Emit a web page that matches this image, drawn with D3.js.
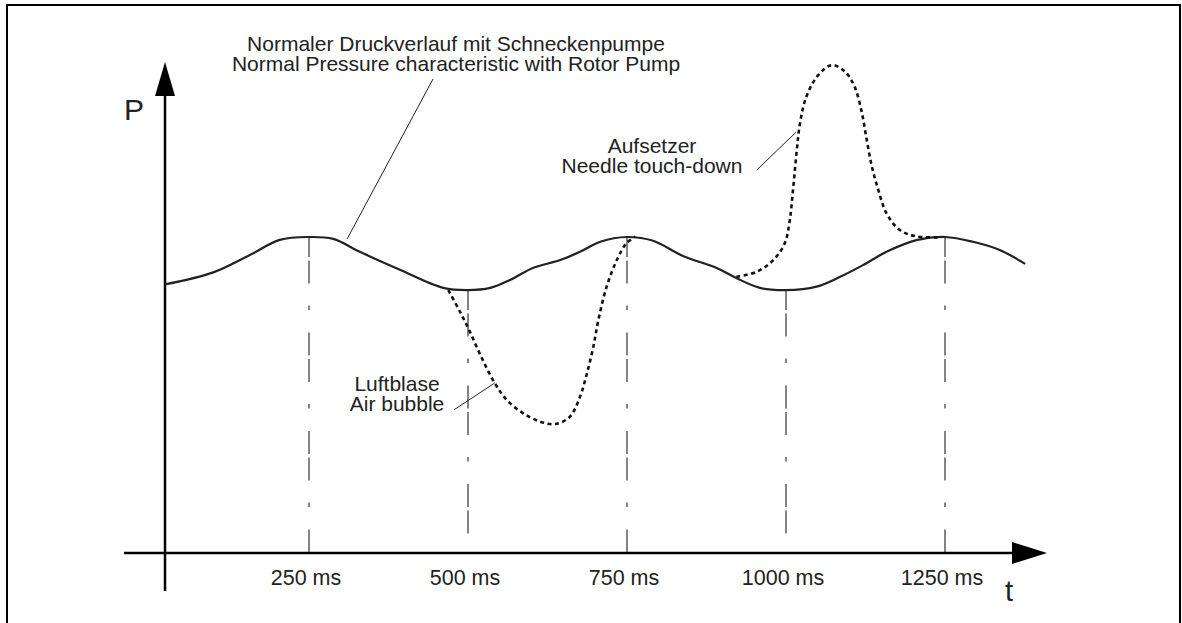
<!DOCTYPE html>
<html>
<head>
<meta charset="utf-8">
<script src="https://cdn.jsdelivr.net/npm/d3@7"></script>
<style>
  body { margin: 0; background: #fff; }
  svg { display: block; }
  text { font-family: "Liberation Sans", Arial, Helvetica, sans-serif; fill: #222; }
</style>
</head>
<body>
<svg id="chart"></svg>
<script>
// time in ms, pressure in % of the normal peak
const normalT = [23.6, 99.5, 157, 204, 250, 288, 330, 393, 461, 500, 535, 566, 602, 645, 676, 708, 750, 791, 838, 891, 922, 959, 1000, 1048, 1085, 1121, 1158, 1205, 1250, 1294, 1336, 1376];
const normalP = [85.0, 88.8, 94.3, 99.1, 100, 99.4, 95.3, 89.6, 83.9, 83.2, 83.9, 86.4, 90.2, 92.7, 95.3, 98.5, 100, 98.8, 94.0, 90.2, 87.0, 83.9, 83.2, 84.3, 87.4, 91.1, 95.3, 99.0, 100, 98.5, 95.9, 91.5];

const bubbleT = [469, 487, 503, 521, 542, 561, 587, 613, 637, 660, 676, 687, 697, 705, 718, 734, 749, 763];
const bubbleP = [83.2, 76.5, 70.0, 62.0, 53.8, 48.4, 44.2, 41.6, 40.8, 43.1, 49.4, 56.8, 65.2, 73.7, 84.3, 92.7, 98.0, 100.1];

const needleT = [922, 954, 980, 998, 1006, 1011, 1017, 1022, 1032, 1051, 1072, 1093, 1108, 1119, 1127, 1135, 1145, 1158, 1179, 1205, 1242];
const needleP = [87.4, 89.0, 92.7, 98.0, 105.4, 114.9, 127.5, 136.0, 144.4, 151.3, 154.4, 152.3, 147.5, 139.6, 130.7, 122.3, 115.0, 107.5, 102.2, 100.2, 99.9];

const tickT = [250, 500, 750, 1000, 1250];
const tickP = [100, 83.2, 100, 83.2, 100];
const tickLabels = ["250 ms", "500 ms", "750 ms", "1000 ms", "1250 ms"];

const axisT = 23.6;

const width = 1182, height = 623;

const svg = d3.select("#chart")
    .attr("width", width)
    .attr("height", height);

svg.append("rect")
    .attr("x", 7).attr("y", 5)
    .attr("width", 1173).attr("height", 640)
    .attr("fill", "#fff")
    .attr("stroke", "#000")
    .attr("stroke-width", 2);

const x = d3.scaleLinear().domain([0, 1250]).range([150, 945]);
const y = d3.scaleLinear().domain([0, 100]).range([553, 237]);

const line = d3.line()
    .x(d => x(d[0]))
    .y(d => y(d[1]))
    .curve(d3.curveCatmullRom.alpha(0.5));

const zip = (a, b) => a.map((v, i) => [v, b[i]]);

// dash-dot marker lines
svg.append("g")
    .selectAll("line")
    .data(zip(tickT, tickP))
    .join("line")
    .attr("x1", d => x(d[0])).attr("x2", d => x(d[0]))
    .attr("y1", d => y(d[1])).attr("y2", y(0))
    .attr("stroke", "#333")
    .attr("stroke-width", 1.2)
    .attr("stroke-dasharray", "23,3.5,23,22,4.5,22.5")
    .attr("stroke-dashoffset", 3);

// axes
const x0 = x(axisT);
svg.append("line")
    .attr("x1", 124).attr("x2", 1015)
    .attr("y1", y(0)).attr("y2", y(0))
    .attr("stroke", "#000").attr("stroke-width", 2.5);
svg.append("line")
    .attr("x1", x0).attr("x2", x0)
    .attr("y1", 92).attr("y2", 591)
    .attr("stroke", "#000").attr("stroke-width", 2.5);
svg.append("path")
    .attr("d", `M${x0},62 L${x0 - 10},96 L${x0 + 10},96 Z`)
    .attr("fill", "#000");
svg.append("path")
    .attr("d", `M1047,${y(0)} L1012,${y(0) - 11} L1012,${y(0) + 11} Z`)
    .attr("fill", "#000");

svg.append("text")
    .attr("x", 124).attr("y", 120)
    .attr("font-size", 30)
    .text("P");
svg.append("text")
    .attr("x", 1005).attr("y", 601)
    .attr("font-size", 29)
    .text("t");

svg.append("g")
    .selectAll("text")
    .data(tickT)
    .join("text")
    .attr("x", d => x(d) - 3)
    .attr("y", 585)
    .attr("font-size", 21.5)
    .attr("text-anchor", "middle")
    .text((d, i) => tickLabels[i]);

// curves
svg.append("path")
    .datum(zip(normalT, normalP))
    .attr("d", line)
    .attr("fill", "none")
    .attr("stroke", "#222")
    .attr("stroke-width", 2.2);

[zip(bubbleT, bubbleP), zip(needleT, needleP)].forEach(pts => {
    svg.append("path")
        .datum(pts)
        .attr("d", line)
        .attr("fill", "none")
        .attr("stroke", "#111")
        .attr("stroke-width", 2.6)
        .attr("stroke-dasharray", "4,3.5");
});

// annotations
const notes = [
    { lines: ["Normaler Druckverlauf mit Schneckenpumpe", "Normal Pressure characteristic with Rotor Pump"], tx: 456, ty: 51, from: [310, 99.4], to: [445, 150] },
    { lines: ["Luftblase", "Air bubble"], tx: 397, ty: 391, from: [478, 45.3], to: [542, 53.8] },
    { lines: ["Aufsetzer", "Needle touch-down"], tx: 652, ty: 153, from: [954, 121.2], to: [1016, 133.2] }
];

notes.forEach(n => {
    const t = svg.append("text")
        .attr("text-anchor", "middle")
        .attr("font-size", 21);
    n.lines.forEach((s, i) => {
        t.append("tspan")
            .attr("x", n.tx)
            .attr("y", n.ty + i * 20)
            .text(s);
    });
    svg.append("line")
        .attr("x1", x(n.from[0])).attr("y1", y(n.from[1]))
        .attr("x2", x(n.to[0])).attr("y2", y(n.to[1]))
        .attr("stroke", "#222")
        .attr("stroke-width", 1);
});
</script>
</body>
</html>
